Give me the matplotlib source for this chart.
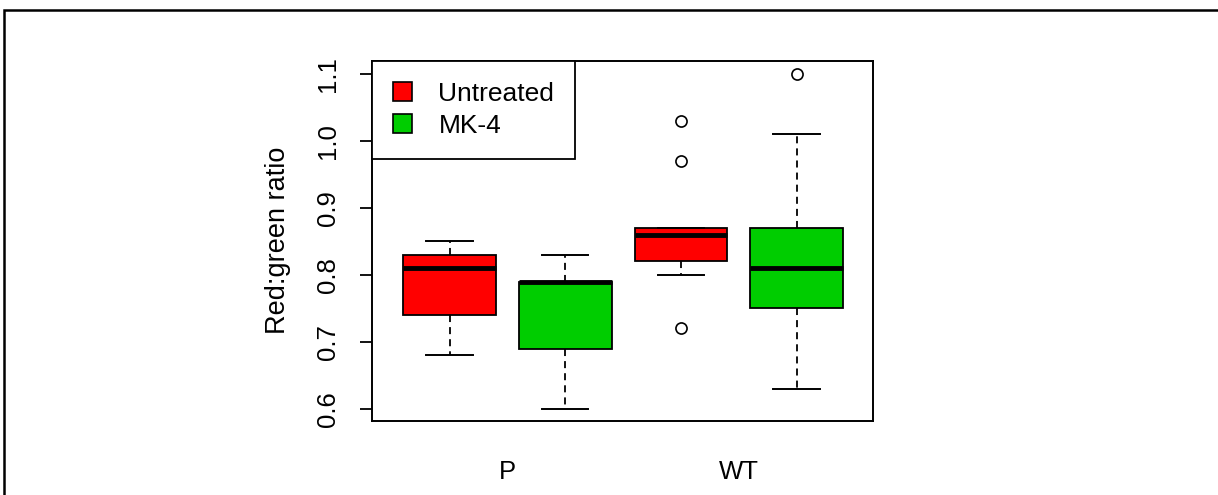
import matplotlib
matplotlib.use("Agg")
import matplotlib.pyplot as plt
from matplotlib.patches import Patch, Rectangle

plt.rcParams['font.family'] = ['Liberation Sans', 'DejaVu Sans']

# Data
groups = ["P", "WT"]
treatments = ["Untreated", "MK-4"]
colors = ["#FF0000", "#00CD00"]
positions = [1, 2, 3, 4]
whislo = [0.68, 0.60, 0.80, 0.63]
q1 = [0.74, 0.69, 0.82, 0.75]
med = [0.81, 0.79, 0.86, 0.81]
q3 = [0.83, 0.79, 0.87, 0.87]
whishi = [0.85, 0.83, 0.87, 1.01]
fliers = [[], [], [1.03, 0.97, 0.72], [1.10]]
yticks = [0.6, 0.7, 0.8, 0.9, 1.0, 1.1]
ylabel = "Red:green ratio"

W, H = 1218, 495
fig = plt.figure(figsize=(W / 100, H / 100), dpi=100)
ax = fig.add_axes([372 / W, 1 - 421 / H, (873 - 372) / W, (421 - 61) / H])

stats = []
for i in range(len(positions)):
    stats.append(dict(whislo=whislo[i], q1=q1[i], med=med[i], q3=q3[i],
                      whishi=whishi[i], fliers=fliers[i]))

bp = ax.bxp(stats, positions=positions, widths=0.8, capwidths=0.4,
            patch_artist=True, showfliers=True,
            boxprops=dict(edgecolor="black", linewidth=1.3),
            whiskerprops=dict(color="black", linewidth=1.3, linestyle=(0, (3.9, 2.8))),
            capprops=dict(color="black", linewidth=1.4),
            medianprops=dict(color="black", linewidth=3.5, solid_capstyle="butt"),
            flierprops=dict(marker="o", markerfacecolor="none", markeredgecolor="black",
                            markersize=8, markeredgewidth=1.2, linestyle="none"))
for i, box in enumerate(bp["boxes"]):
    box.set_facecolor(colors[i % 2])

ax.set_xlim(0.33, 4.66)
ax.set_ylim(0.582, 1.119)

ax.set_yticks(yticks)
ax.set_yticklabels([f"{t:.1f}" for t in yticks], rotation=90, va="center")
ax.tick_params(axis="y", length=9, width=1.3, labelsize=18.5, pad=14)

ax.set_xticks([1.5, 3.5])
ax.set_xticklabels(groups)
ax.tick_params(axis="x", length=0, labelsize=18.5, pad=28)

for s in ax.spines.values():
    s.set_linewidth(1.4)

fig.text(278 / W, 1 - 240 / H, ylabel, rotation=90, ha="center", va="center", fontsize=19.5)

handles = [Patch(facecolor=c, edgecolor="black", linewidth=1.2) for c in colors]
leg = ax.legend(handles, treatments, loc="upper left", bbox_to_anchor=(0, 1),
                borderaxespad=0, fontsize=19, fancybox=False, framealpha=1,
                edgecolor="black", handlelength=0.72, handleheight=0.72,
                handletextpad=1.0, borderpad=0.8, labelspacing=0.3)
leg.get_frame().set_linewidth(1.3)

fig.patches.append(Rectangle((4 / W, -0.2), 1.5, 1.2 - 10 / H, transform=fig.transFigure,
                             fill=False, edgecolor="black", linewidth=1.8))

fig.savefig("out.png", dpi=100)
